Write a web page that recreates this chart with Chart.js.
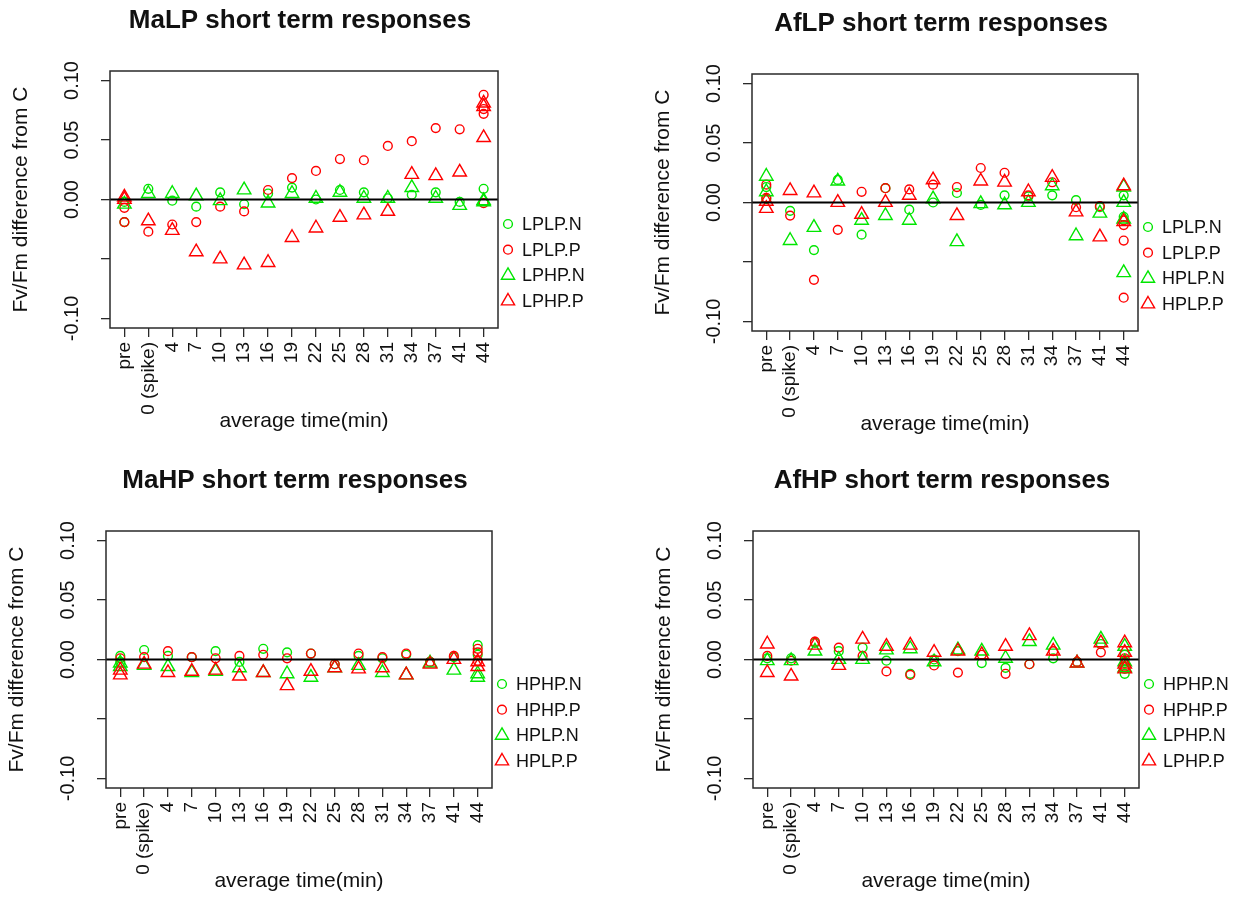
<!DOCTYPE html>
<html>
<head>
<meta charset="utf-8">
<title>Short term Fv/Fm responses</title>
<script src="https://cdn.jsdelivr.net/npm/chart.js@4.4.1/dist/chart.umd.min.js"></script>
<style>
  html, body { margin: 0; padding: 0; background: #fff; }
  #wrap { position: relative; width: 1257px; height: 898px; overflow: hidden; background: #fff; }
  #wrap canvas { position: absolute; }
</style>
</head>
<body>
<div id="wrap">
  <canvas id="c1" width="628" height="449" style="left:0px;top:0px"></canvas>
  <canvas id="c2" width="629" height="449" style="left:628px;top:0px"></canvas>
  <canvas id="c3" width="628" height="449" style="left:0px;top:449px"></canvas>
  <canvas id="c4" width="629" height="449" style="left:628px;top:449px"></canvas>
</div>
<script>
// Sampling times (x categories) and y-axis tick values / labels
const timeLabels = ['pre', '0 (spike)', '4', '7', '10', '13', '16', '19', '22', '25', '28', '31', '34', '37', '41', '44'];
const yTickValues = [-0.10, -0.05, 0.00, 0.05, 0.10];
const yTickLabels = ['-0.10', '', '0.00', '0.05', '0.10'];

// Fv/Fm difference from control, one entry per time; an inner list holds replicate points at that time
// MaLP
const malpLPLP_N = [[-0.019, -0.002], 0.009, -0.001, -0.006, 0.006, -0.004, 0.005, 0.010, 0.000, 0.008, 0.006, 0.001, 0.004, 0.006, -0.002, [0.009]];
const malpLPLP_P = [[-0.019, -0.007], -0.027, -0.021, -0.019, -0.006, -0.010, 0.008, 0.018, 0.024, 0.034, 0.033, 0.045, 0.049, 0.060, 0.059, [0.088, 0.076, 0.072, -0.003]];
const malpLPHP_N = [[-0.004], 0.005, 0.005, 0.003, -0.001, 0.008, -0.003, 0.005, 0.001, 0.006, 0.001, 0.001, 0.010, 0.001, -0.005, [-0.001, -0.002]];
const malpLPHP_P = [[0.002, 0.000], -0.018, -0.026, -0.044, -0.050, -0.055, -0.053, -0.032, -0.024, -0.015, -0.013, -0.010, 0.021, 0.020, 0.023, [0.081, 0.078, 0.052]];

// AfLP
const aflpLPLP_N = [[0.013, 0.003], -0.007, -0.040, 0.019, -0.027, 0.012, -0.006, 0.000, 0.008, -0.002, 0.006, 0.005, 0.006, 0.002, -0.004, [0.006, -0.012]];
const aflpLPLP_P = [[0.015, 0.004], -0.011, -0.065, -0.023, 0.009, 0.012, 0.011, 0.015, 0.013, 0.029, 0.025, 0.006, 0.017, -0.004, -0.003, [-0.015, -0.019, -0.032, -0.080]];
const aflpHPLP_N = [[0.022, 0.009], -0.032, -0.021, 0.018, -0.015, -0.011, -0.015, 0.003, -0.033, -0.001, -0.002, 0.000, 0.014, -0.028, -0.009, [0.013, 0.000, -0.014, -0.059]];
const aflpHPLP_P = [[0.001, -0.005], 0.010, 0.008, 0.000, -0.010, 0.000, 0.006, 0.019, -0.011, 0.018, 0.017, 0.009, 0.021, -0.008, -0.029, [0.014, -0.016]];

// MaHP
const mahpHPHP_N = [[0.003, -0.002], 0.008, 0.003, 0.002, 0.007, -0.002, 0.009, 0.006, 0.005, -0.004, 0.003, 0.001, 0.004, -0.002, 0.002, [0.012, 0.004]];
const mahpHPHP_P = [[0.001], 0.002, 0.007, 0.002, 0.001, 0.003, 0.004, 0.001, 0.005, -0.004, 0.005, 0.002, 0.005, -0.002, 0.003, [0.009, 0.006, -0.001]];
const mahpHPLP_N = [[-0.003, -0.006], -0.005, -0.006, -0.011, -0.010, -0.007, -0.011, -0.012, -0.015, -0.007, -0.005, -0.011, -0.013, -0.003, -0.009, [-0.012, -0.015]];
const mahpHPLP_P = [[-0.009, -0.013], -0.004, -0.011, -0.010, -0.009, -0.014, -0.011, -0.022, -0.010, -0.007, -0.008, -0.007, -0.013, -0.004, 0.000, [-0.002, -0.006]];

// AfHP
const afhpHPHP_N = [[0.001], 0.001, 0.014, 0.007, 0.010, -0.001, -0.012, 0.000, 0.007, -0.003, -0.007, -0.004, 0.001, -0.002, 0.013, [0.004, -0.003, -0.008, -0.012]];
const afhpHPHP_P = [[0.003], -0.001, 0.015, 0.010, 0.003, -0.010, -0.013, -0.005, -0.011, 0.004, -0.012, -0.004, 0.007, -0.002, 0.006, [0.001, -0.006]];
const afhpLPHP_N = [[-0.001], -0.001, 0.007, 0.000, 0.000, 0.008, 0.009, -0.002, 0.008, 0.007, 0.001, 0.015, 0.012, -0.003, 0.017, [0.011, -0.002, -0.007]];
const afhpLPHP_P = [[0.013, -0.011], -0.014, 0.012, -0.005, 0.017, 0.011, 0.012, 0.006, 0.007, 0.004, 0.011, 0.020, 0.007, -0.003, 0.014, [0.014, 0.006, -0.004, -0.008]];

const FONT = '"Liberation Sans", Arial, Helvetica, sans-serif';
const GREEN = '#00e600';
const RED = '#ff0000';
const AXIS = '#2a2a2a';
const TEXT = '#111111';

// Marker look for the four series of every panel: N = green, P = red
const markStyles = [
  { shape: 'circle',   color: GREEN, radius: 4.4 },
  { shape: 'circle',   color: RED,   radius: 4.4 },
  { shape: 'triangle', color: GREEN, radius: 7.8 },
  { shape: 'triangle', color: RED,   radius: 7.8 }
];

const panels = [
  { id: 'c1', title: 'MaLP short term responses', names: ['LPLP.N', 'LPLP.P', 'LPHP.N', 'LPHP.P'],
    series: [malpLPLP_N, malpLPLP_P, malpLPHP_N, malpLPHP_P], area: { l: 110, t: 71, r: 498, b: 328 } },
  { id: 'c2', title: 'AfLP short term responses', names: ['LPLP.N', 'LPLP.P', 'HPLP.N', 'HPLP.P'],
    series: [aflpLPLP_N, aflpLPLP_P, aflpHPLP_N, aflpHPLP_P], area: { l: 124, t: 74, r: 510, b: 331 } },
  { id: 'c3', title: 'MaHP short term responses', names: ['HPHP.N', 'HPHP.P', 'HPLP.N', 'HPLP.P'],
    series: [mahpHPHP_N, mahpHPHP_P, mahpHPLP_N, mahpHPLP_P], area: { l: 106, t: 82, r: 492, b: 339 } },
  { id: 'c4', title: 'AfHP short term responses', names: ['HPHP.N', 'HPHP.P', 'LPHP.N', 'LPHP.P'],
    series: [afhpHPHP_N, afhpHPHP_P, afhpLPHP_N, afhpLPHP_P], area: { l: 125, t: 82, r: 511, b: 339 } }
];

const Y_SCALE_W = 50;
const X_SCALE_H = 100;

function toPoints(values) {
  const pts = [];
  values.forEach((v, i) => {
    (Array.isArray(v) ? v : [v]).forEach(y => pts.push({ x: i + 1, y: y }));
  });
  return pts;
}

function drawMark(ctx, shape, x, y, r, color) {
  ctx.save();
  ctx.strokeStyle = color;
  ctx.lineWidth = 1.4;
  ctx.beginPath();
  if (shape === 'circle') {
    ctx.arc(x, y, r, 0, Math.PI * 2);
  } else {
    for (let k = 0; k < 3; k++) {
      const a = k * 2 * Math.PI / 3;
      const px = x + Math.sin(a) * r, py = y - Math.cos(a) * r;
      if (k === 0) ctx.moveTo(px, py); else ctx.lineTo(px, py);
    }
    ctx.closePath();
  }
  ctx.stroke();
  ctx.restore();
}

// Frame, zero reference line, titles, rotated y tick labels and the legend
const panelDecor = {
  id: 'panelDecor',
  afterDatasetsDraw(chart, args, opts) {
    const { ctx, chartArea: a } = chart;
    const y = chart.scales.y;
    ctx.save();
    const y0 = y.getPixelForValue(0);
    ctx.strokeStyle = '#000';
    ctx.lineWidth = 2;
    ctx.beginPath();
    ctx.moveTo(a.left, y0);
    ctx.lineTo(a.right, y0);
    ctx.stroke();
    ctx.strokeStyle = AXIS;
    ctx.lineWidth = 1.5;
    ctx.strokeRect(a.left, a.top, a.right - a.left, a.bottom - a.top);
    ctx.restore();
  },
  afterDraw(chart, args, opts) {
    const { ctx, chartArea: a } = chart;
    const y = chart.scales.y;
    const cx = (a.left + a.right) / 2;
    const cy = (a.top + a.bottom) / 2;
    ctx.save();
    ctx.fillStyle = TEXT;
    ctx.textAlign = 'center';
    ctx.textBaseline = 'middle';

    ctx.font = 'bold 26px ' + FONT;
    ctx.fillText(opts.title, cx - 4, a.top - 50);

    ctx.font = '21px ' + FONT;
    ctx.fillText('average time(min)', cx, a.bottom + 93);

    ctx.font = '20px ' + FONT;
    yTickValues.forEach((v, i) => {
      if (!yTickLabels[i]) return;
      ctx.save();
      ctx.translate(a.left - 38, y.getPixelForValue(v));
      ctx.rotate(-Math.PI / 2);
      ctx.fillText(yTickLabels[i], 0, 0);
      ctx.restore();
    });

    ctx.save();
    ctx.font = '21px ' + FONT;
    ctx.translate(a.left - 89, cy);
    ctx.rotate(-Math.PI / 2);
    ctx.fillText('Fv/Fm difference from C', 0, 0);
    ctx.restore();

    ctx.font = '18px ' + FONT;
    ctx.textAlign = 'left';
    opts.names.forEach((name, k) => {
      const ly = a.top + 153 + k * 25.7;
      const st = markStyles[k];
      drawMark(ctx, st.shape, a.right + 10, ly, st.shape === 'circle' ? 4.4 : 7.6, st.color);
      ctx.fillText(name, a.right + 24, ly + 1);
    });
    ctx.restore();
  }
};

panels.forEach(p => {
  const canvas = document.getElementById(p.id);
  const W = canvas.width, H = canvas.height;
  const datasets = p.series.map((vals, k) => ({
    label: p.names[k],
    data: toPoints(vals),
    showLine: false,
    pointStyle: markStyles[k].shape,
    pointRadius: markStyles[k].radius,
    pointHoverRadius: markStyles[k].radius,
    pointBorderColor: markStyles[k].color,
    pointBackgroundColor: 'rgba(0,0,0,0)',
    pointBorderWidth: 1.4,
    order: 4 - k
  }));

  new Chart(canvas, {
    type: 'scatter',
    data: { datasets },
    plugins: [panelDecor],
    options: {
      responsive: false,
      animation: false,
      devicePixelRatio: 1,
      events: [],
      layout: {
        padding: { left: p.area.l - Y_SCALE_W, top: p.area.t, right: W - p.area.r, bottom: H - p.area.b - X_SCALE_H }
      },
      plugins: {
        legend: { display: false },
        tooltip: { enabled: false },
        panelDecor: { title: p.title, names: p.names }
      },
      scales: {
        x: {
          type: 'linear',
          min: 0.4,
          max: timeLabels.length + 0.6,
          afterBuildTicks: s => { s.ticks = timeLabels.map((_, i) => ({ value: i + 1 })); },
          afterFit: s => { s.height = X_SCALE_H; },
          ticks: {
            autoSkip: false,
            minRotation: 90,
            maxRotation: 90,
            padding: 5,
            color: TEXT,
            font: { family: FONT, size: 19 },
            callback: v => timeLabels[Math.round(v) - 1] || ''
          },
          grid: { display: true, drawOnChartArea: false, drawTicks: true, tickLength: 9, color: AXIS, lineWidth: 1.3 },
          border: { display: false }
        },
        y: {
          type: 'linear',
          min: -0.108,
          max: 0.108,
          afterBuildTicks: s => { s.ticks = yTickValues.map(v => ({ value: v })); },
          afterFit: s => { s.width = Y_SCALE_W; },
          ticks: { display: false },
          grid: { display: true, drawOnChartArea: false, drawTicks: true, tickLength: 9, color: AXIS, lineWidth: 1.3 },
          border: { display: false }
        }
      }
    }
  });
});
</script>
</body>
</html>
